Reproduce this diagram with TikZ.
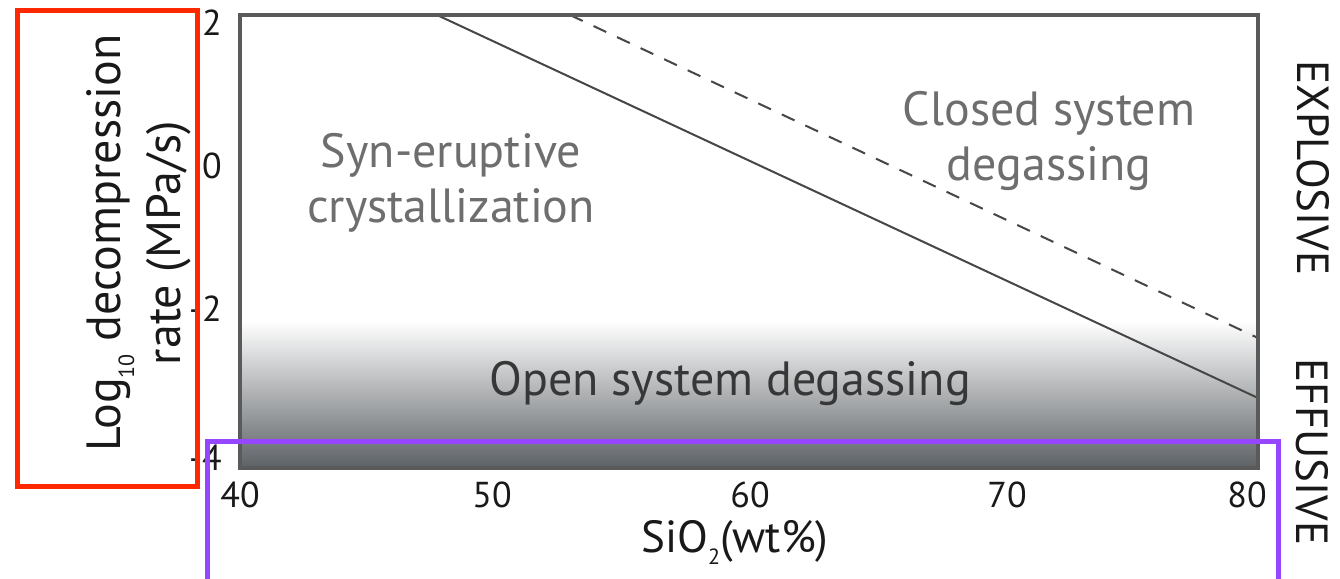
\documentclass[tikz,border=0pt]{standalone}
\usepackage{fontspec}
\setmainfont{PT Sans}
\definecolor{framegray}{RGB}{90,90,90}
\definecolor{linegray}{RGB}{70,70,70}
\definecolor{regiongray}{RGB}{110,110,110}
\definecolor{opentext}{RGB}{55,55,55}
\definecolor{shadedark}{RGB}{92,97,101}
\definecolor{redbox}{RGB}{255,40,0}
\definecolor{purplebox}{RGB}{150,70,255}
\newcommand{\smallsub}[1]{\raisebox{-0.28em}{\fontsize{22}{24}\selectfont #1}}
\begin{document}
\begin{tikzpicture}[x=1pt,y=-1pt,
  ticklab/.style={font=\fontsize{36}{40}\selectfont, text=black!90, inner sep=0pt},
  regionlab/.style={font=\fontsize{48}{55}\selectfont, text=regiongray, align=center, inner sep=0pt},
  sidelab/.style={font=\fontsize{45}{48}\selectfont, text=black!90, inner sep=0pt},
  axislab/.style={font=\fontsize{48}{60}\selectfont, text=black!90, align=center, inner sep=0pt},
  plotline/.style={draw=linegray, line width=2pt},
  highlight/.style={line width=5pt}
]
\clip (0,0) rectangle (1340,578);
% gradient band
\shade[top color=white, bottom color=shadedark] (240,321) rectangle (1258,468);
% plot lines
\coordinate (s1) at (437,15);
\coordinate (s2) at (1258,398);
\coordinate (d1) at (570,15);
\coordinate (d2) at (1258,338);
\draw[plotline] (s1) -- (s2);
\draw[plotline, dash pattern=on 14pt off 12pt] (d1) -- (d2);
% frame
\draw[draw=framegray, line width=3.5pt] (240,15) rectangle (1258,468);
% region labels
\node[regionlab] (syn) at (451,183) {Syn-eruptive\\crystallization};
\node[regionlab] (closed) at (1049,141) {Closed system\\degassing};
\node[regionlab, text=opentext, anchor=base] (open) at (730,395) {Open system degassing};
% y tick labels
\node[ticklab, anchor=east] (y2) at (222,23) {2};
\node[ticklab, anchor=east] (y0) at (222,166) {0};
\node[ticklab, anchor=east] (ym2) at (222,309) {-2};
\node[ticklab, anchor=east] (ym4) at (222,458) {-4};
% x tick labels
\node[ticklab] (x40) at (240,495) {40};
\node[ticklab] (x50) at (492,495) {50};
\node[ticklab] (x60) at (750,495) {60};
\node[ticklab] (x70) at (1007,495) {70};
\node[ticklab] (x80) at (1247,495) {80};
% axis labels
\node[axislab, font=\fontsize{45}{50}\selectfont, anchor=base] (xlab) at (735,552) {SiO\smallsub{2}(wt\%)};
\node[axislab, rotate=90] (ylab) at (139,243) {Log\smallsub{10} decompression\\rate (MPa/s)};
% side labels
\node[sidelab, rotate=-90] (expl) at (1313,168) {EXPLOSIVE};
\node[sidelab, rotate=-90] (effu) at (1312,452) {EFFUSIVE};
% highlight boxes
\draw[highlight, draw=redbox] (17,11) rectangle (197,486);
\draw[highlight, draw=purplebox] (207,441.5) rectangle (1278,600);
\end{tikzpicture}
\end{document}
